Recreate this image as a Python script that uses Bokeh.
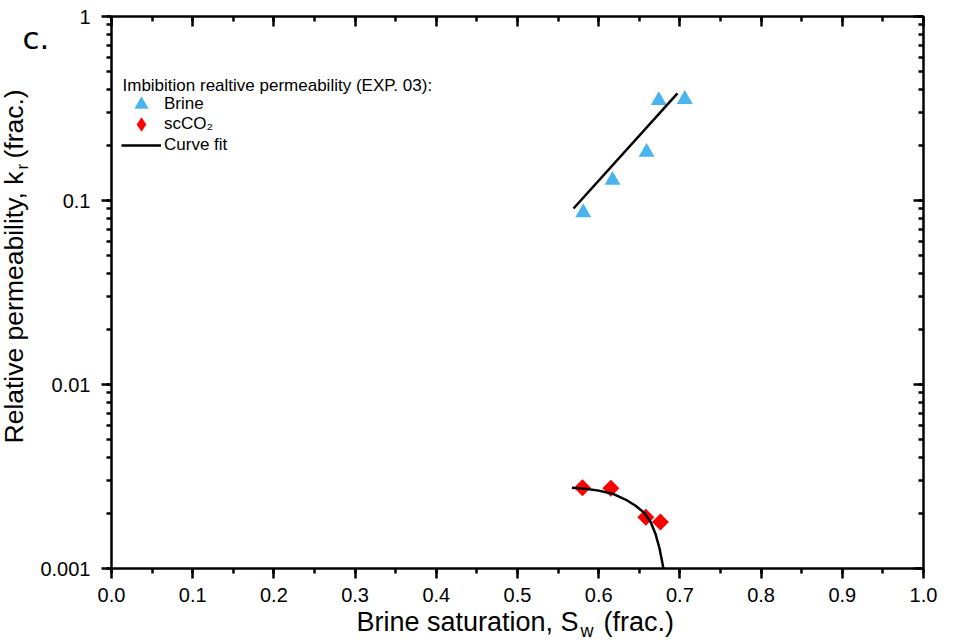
import math
from bokeh.plotting import figure
from bokeh.models import (Range1d, LinearAxis, LogAxis, Label, Legend, LegendItem,
                          SingleIntervalTicker, LogTicker, NumeralTickFormatter)
from bokeh.embed import file_html
from bokeh.resources import INLINE

# ---- data ----
brine_sw = [0.581, 0.617, 0.659, 0.674, 0.706]
brine_kr = [0.086, 0.129, 0.183, 0.350, 0.355]
co2_sw = [0.580, 0.615, 0.658, 0.676]
co2_kr = [0.00275, 0.00273, 0.00190, 0.00179]
brine_fit_sw = [0.569, 0.697]
brine_fit_kr = [0.0905, 0.382]
co2_fit_sw = [0.567, 0.584, 0.600, 0.617, 0.633, 0.645, 0.656, 0.664, 0.670, 0.675, 0.679, 0.6795]
co2_fit_kr = [0.00275, 0.00271, 0.00265, 0.00255, 0.00237, 0.00220, 0.00201, 0.00179,
              0.00154, 0.00128, 0.00104, 0.001]
y_tick_values = [0.001, 0.01, 0.1, 1]
y_tick_labels = ["0.001", "0.01", "0.1", "1"]
legend_title = "Imbibition realtive permeability (EXP. 03):"
legend_labels = ["Brine", "scCO₂", "Curve fit"]

FONT = "Liberation Sans"
BLUE = "#4CB4EC"
RED = "#FF0000"
W, H = 945, 643


def xdata(px):
    # picture pixel -> data x (x=0 at px 111, x=1 at px 923)
    return (px - 111) / 812.0


def ydata(py):
    # picture pixel -> data y on log axis (1 at py 16, 184 px per decade)
    return 10 ** (-(py - 16) / 184.0)


p = figure(width=W, height=H, x_range=Range1d(xdata(0), xdata(W)),
           y_range=Range1d(ydata(H), ydata(0)), y_axis_type="log",
           output_backend="svg", toolbar_location=None,
           min_border_left=0, min_border_right=0, min_border_top=0, min_border_bottom=0)
p.grid.visible = False
p.outline_line_color = None
p.background_fill_color = "white"
p.border_fill_color = "white"

xb = p.below[0]
yl = p.left[0]
xb.ticker = SingleIntervalTicker(interval=0.1, num_minor_ticks=2)
xb.formatter = NumeralTickFormatter(format="0.0")
xb.fixed_location = 0.001
xb.bounds = (0, 1)
yl.ticker = LogTicker(num_minor_ticks=10)
yl.major_label_overrides = {v: l for v, l in zip(y_tick_values, y_tick_labels)}
yl.fixed_location = 0
yl.bounds = (0.001, 1)

for ax in (xb, yl):
    ax.axis_line_width = 2.5
    ax.major_tick_line_width = 2.5
    ax.minor_tick_line_width = 2.5
    ax.major_tick_out = 10
    ax.major_tick_in = 0
    ax.minor_tick_out = 5
    ax.minor_tick_in = 0
    ax.major_label_text_font = FONT
    ax.major_label_text_font_size = "20px"
    ax.major_label_text_color = "black"
xb.major_label_standoff = 9
yl.major_label_standoff = 11

top = LinearAxis(ticker=SingleIntervalTicker(interval=0.1, num_minor_ticks=2),
                 fixed_location=1, bounds=(0, 1))
right = LogAxis(ticker=LogTicker(num_minor_ticks=10), fixed_location=1, bounds=(0.001, 1))
for ax in (top, right):
    ax.axis_line_width = 2.5
    ax.major_tick_line_width = 2.5
    ax.minor_tick_line_width = 2.5
    ax.major_tick_out = 0
    ax.major_tick_in = 10
    ax.minor_tick_out = 0
    ax.minor_tick_in = 5
    ax.major_label_text_font_size = "0px"
    ax.major_label_text_alpha = 0
    ax.major_label_standoff = 0
p.add_layout(top, "above")
p.add_layout(right, "right")

r_brine = p.scatter(brine_sw, brine_kr, marker="triangle", size=16, fill_color=BLUE, line_color=None)
# plain diamond (hidden under the rotated squares) used for the legend swatch
r_co2_leg = p.scatter(co2_sw, co2_kr, marker="diamond", size=16, fill_color=RED, line_color=None)
p.scatter(co2_sw, co2_kr, marker="square", angle=math.pi / 4, size=12,
          fill_color=RED, line_color=None)
r_fit = p.line(brine_fit_sw, brine_fit_kr, line_color="black", line_width=2.5)
p.line(co2_fit_sw, co2_fit_kr, line_color="black", line_width=2.5)

GH = 36
for label, rend, centre in zip(legend_labels, [r_brine, r_co2_leg, r_fit], [104, 124, 145]):
    lg = Legend(items=[LegendItem(label=label, renderers=[rend])],
                location=(121, H - (centre + GH // 2)),
                label_text_font=FONT, label_text_font_size="17px", label_text_color="black",
                glyph_width=40, glyph_height=GH, label_height=20, label_standoff=3,
                spacing=0, padding=0, margin=0, border_line_color=None,
                background_fill_alpha=0)
    p.add_layout(lg)

OFF = 0.45  # measured shift of the alphabetic baseline, in em


def lab(px, py, text, size, **kw):
    # py is the wanted baseline (picture px); compensate the renderer's shift
    return Label(x=xdata(px), y=ydata(py - OFF * size), text=text, text_baseline="alphabetic",
                 text_font=kw.pop("font", FONT), text_font_size=f"{size}px",
                 text_color="black", **kw)


def vlab(px, py, text, size, **kw):
    # rotated text; px is the wanted baseline (picture px)
    return Label(x=xdata(px - OFF * size), y=ydata(py), text=text, angle=math.pi / 2,
                 text_align="left", text_baseline="alphabetic", text_font=FONT,
                 text_font_size=f"{size}px", text_color="black", **kw)


p.add_layout(lab(122, 93, legend_title, 17, text_align="left"))
# x-axis title
p.add_layout(lab(578, 634, "Brine saturation, S", 27, text_align="right"))
p.add_layout(lab(580, 639, "w", 18, text_align="left"))
p.add_layout(lab(603, 634, "(frac.)", 27, text_align="left"))
# y-axis title (rotated)
p.add_layout(vlab(25, 443, "Relative permeability, k", 26.5))
p.add_layout(vlab(30, 169, "r", 17))
p.add_layout(vlab(25, 158, "(frac.)", 26.5))
# panel letter
p.add_layout(lab(22, 51, "c.", 31, text_align="left", font="DejaVu Sans"))

open("out.html", "w").write(file_html(p, INLINE))
